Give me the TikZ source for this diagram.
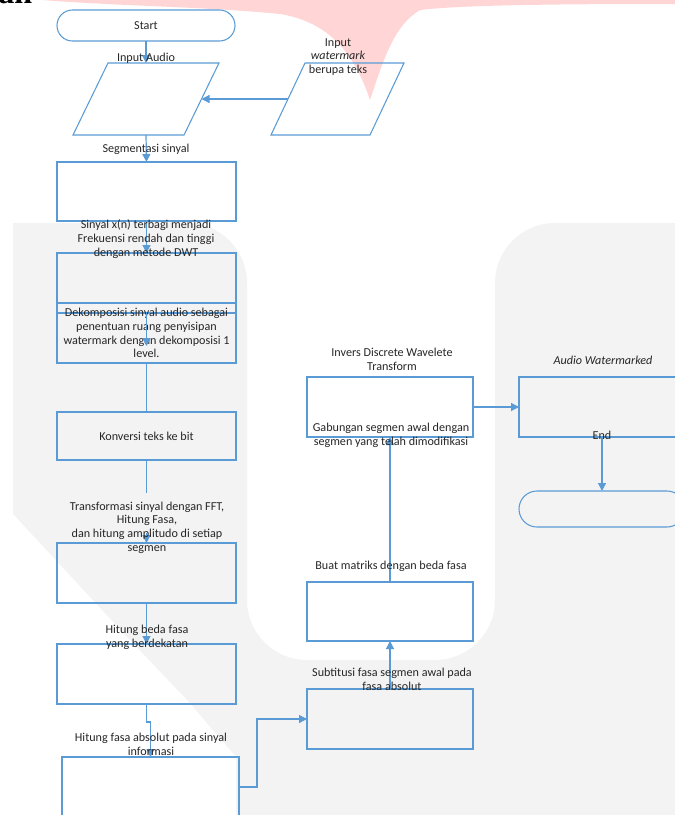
\documentclass[tikz,border=0pt]{standalone}
\usepackage{fontspec}
\setmainfont{Carlito}
\newfontfamily\hdfont{Liberation Serif}
\usetikzlibrary{arrows.meta}
\definecolor{lblue}{HTML}{5B9BD5}
\definecolor{wmgrey}{HTML}{F3F3F3}
\definecolor{wmpink}{HTML}{FFD5D6}
\definecolor{txt}{HTML}{262626}
\tikzset{
 box/.style 2 args={draw=lblue, line width=0.8pt, minimum width=#1*0.75pt, minimum height=#2*0.75pt, inner sep=0pt, outer sep=0pt},
 ghost/.style 2 args={minimum width=#1*0.75pt, minimum height=#2*0.75pt, inner sep=0pt, outer sep=0pt},
 lbl/.style={text=txt, font=\fontsize{9.1}{10.3}\selectfont, align=center, inner sep=0pt},
 conn/.style={draw=lblue, line width=0.9pt},
 arr/.style={conn, -{Triangle[length=6pt,width=6pt]}},
}
\begin{document}
\begin{tikzpicture}[x=0.75pt,y=-0.75pt]
\useasboundingbox (0,0) rectangle (675,815);
% ---- background watermark ----
\fill[wmgrey] (13,830) -- (13,223) [rounded corners=45pt] -- (247,223) -- (247,660) -- (495,660) -- (495,223) [sharp corners] -- (700,223) -- (700,830) -- cycle;
\fill[white] (0,500) -- (127,637) -- (187,700) -- (236,757) -- (236,830) -- (0,830) -- cycle;
\fill[wmpink] (20,-2) .. controls (100,6) and (200,6) .. (280,14) .. controls (330,22) and (355,55) .. (370,100) .. controls (385,55) and (395,25) .. (420,10) .. controls (470,4) and (600,4) .. (690,4) -- (690,-5) -- (20,-5) -- cycle;
\node[anchor=base west, inner sep=0pt, font=\hdfont\fontsize{24}{24}\selectfont\bfseries] (hd) at (-2,3.5) {an};
% ---- shapes ----
\node[box={178}{31}, rounded corners=11.6pt, lbl] (start) at (146,25.5) {Start};
\node[ghost={146}{72}] (inA) at (146,99) {};
\draw[lblue, line width=0.8pt] ([xshift=26.25pt]inA.north west) -- (inA.north east) -- ([xshift=-26.25pt]inA.south east) -- (inA.south west) -- cycle;
\node[ghost={133}{72}] (wm) at (337.5,99) {};
\draw[lblue, line width=0.8pt] ([xshift=25.5pt]wm.north west) -- (wm.north east) -- ([xshift=-25.5pt]wm.south east) -- (wm.south west) -- cycle;
\node[box={179}{59}] (b1) at (146.5,191.5) {};
\node[box={179}{60}] (b2) at (146.5,283) {};
\node[box={179}{60}, lbl] (b3) at (146.5,333) {Dekomposisi sinyal audio sebagai\\penentuan ruang penyisipan\\watermark dengan dekomposisi 1\\level.};
\node[box={179}{48}, lbl] (b4) at (146.5,436) {Konversi teks ke bit};
\node[box={179}{60}] (b5) at (146.5,573) {};
\node[box={179}{60}] (b6) at (146.5,674) {};
\node[box={177}{60}] (b7) at (150.5,787) {};
\node[box={166}{60}] (b8) at (390,719) {};
\node[box={166}{59}] (b9) at (390,611.5) {};
\node[box={166}{60}] (b10) at (390,407) {};
\node[box={166}{60}] (b11) at (602,407) {};
\node[box={166}{36}, rounded corners=13.5pt] (endt) at (602,509) {};
% ---- connectors ----
\coordinate (b3in) at (146.5,346);
\coordinate (t1) at (146.5,493);
\coordinate (t2) at (146.5,533);
\draw[arr] (start.south) -- (inA.north);
\draw[arr] ([xshift=12.75pt]wm.west) -- ([xshift=-13.125pt]inA.east);
\draw[arr] (inA.south) -- (b1.north);
\draw[arr] (b1.south) -- (b2.north);
\draw[arr] (b2.south) -- (b3in);
\draw[conn] (b3.south) -- (b4.north);
\draw[conn] (b4.south) -- (t1);
\draw[arr] (t2) -- (b5.north);
\draw[arr] (b5.south) -- (b6.north);
\draw[arr] (b6.south) -- ++(0,18) -| (b7.north);
\draw[arr] (b7.east) -- ++(18,0) |- (b8.west);
\draw[arr] (b8.north) -- (b9.south);
\draw[arr] (b9.north) -- (b10.south);
\draw[arr] (b10.east) -- (b11.west);
\draw[arr] (b11.south) -- (endt.north);
% ---- labels ----
\node[lbl] (lwm) at (338,57) {Input\\\textit{watermark}\\berupa teks};
\node[lbl] (lia) at (146,58) {Input Audio};
\node[lbl] (lseg) at (146,149) {Segmentasi sinyal};
\node[lbl] (lsin) at (146,239) {Sinyal x(n) terbagi menjadi\\Frekuensi rendah dan tinggi\\dengan metode DWT};
\node[lbl] (ltr) at (147,527.5) {Transformasi sinyal dengan FFT,\\Hitung Fasa,\\dan hitung amplitudo di setiap\\segmen};
\node[lbl] (lbd) at (147,637) {Hitung beda fasa\\yang berdekatan};
\node[lbl] (lfa) at (151,744.5) {Hitung fasa absolut pada sinyal\\informasi};
\node[lbl] (lsub) at (392,679.5) {Subtitusi fasa segmen awal pada\\fasa absolut};
\node[lbl] (lbm) at (391,566) {Buat matriks dengan beda fasa};
\node[lbl] (lgab) at (391,435.5) {Gabungan segmen awal dengan\\segmen yang telah dimodifikasi};
\node[lbl] (linv) at (392,359.5) {Invers Discrete Wavelete\\Transform};
\node[lbl] (law) at (603,360) {\textit{Audio Watermarked}};
\node[lbl] (lend) at (602,435) {End};
\end{tikzpicture}
\end{document}
